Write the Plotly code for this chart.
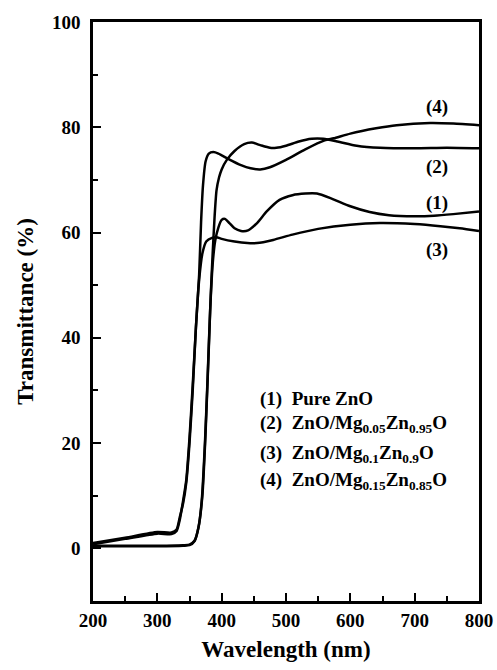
import plotly.graph_objects as go

# Curve (1) Pure ZnO
x1 = [200, 250, 300, 340, 350, 358, 364, 369, 374, 378, 382, 386, 390, 395, 400, 405, 412, 420, 430, 441, 455, 470, 490, 510, 530, 548, 570, 600, 630, 660, 700, 730, 760, 800]
y1 = [0.5, 0.5, 0.5, 0.6, 0.7, 1.5, 4, 9, 20, 32, 45, 54, 58.5, 61, 62.4, 62.6, 61.8, 60.8, 60.3, 60.4, 61.8, 64, 66.2, 67.1, 67.4, 67.4, 66.5, 65, 63.9, 63.3, 63.1, 63.2, 63.5, 64.0]

# Curve (2) ZnO/Mg0.05Zn0.95O
x2 = [200, 250, 300, 340, 350, 358, 364, 370, 375, 380, 383, 386, 389, 392, 396, 400, 408, 420, 435, 447, 460, 475, 485, 500, 520, 540, 558, 580, 610, 646, 700, 750, 800]
y2 = [0.4, 0.4, 0.4, 0.5, 0.6, 1.4, 4, 10, 22, 38, 48, 56, 63, 68, 70.5, 72, 73.8, 75.5, 76.8, 77.1, 76.6, 76.1, 76.1, 76.5, 77.3, 77.8, 77.8, 77.3, 76.5, 76.1, 76.0, 76.1, 76.0]

# Curve (3) ZnO/Mg0.1Zn0.9O
x3 = [200, 250, 300, 322, 330, 335, 340, 345, 350, 355, 360, 365, 370, 376, 385, 392, 400, 420, 440, 455, 480, 510, 550, 600, 646, 700, 740, 770, 800]
y3 = [1.0, 2.0, 3.1, 3.0, 3.6, 6, 8.5, 12.5, 20, 30, 42, 51, 56, 58.3, 59.0, 59.1, 58.8, 58.3, 58.0, 58.0, 58.6, 59.6, 60.7, 61.5, 61.8, 61.6, 61.2, 60.8, 60.3]

# Curve (4) ZnO/Mg0.15Zn0.85O
x4 = [200, 250, 300, 322, 330, 335, 340, 345, 350, 355, 360, 365, 368, 371, 375, 380, 387, 395, 410, 430, 445, 460, 475, 500, 530, 560, 574, 600, 640, 672, 724, 760, 800]
y4 = [0.8, 1.8, 2.8, 2.7, 3.3, 5.5, 9, 13, 21, 31, 42, 52, 62, 69, 73.5, 75, 75.3, 75, 74, 72.8, 72.2, 72, 72.4, 73.8, 75.8, 77.5, 77.9, 78.8, 79.8, 80.4, 80.8, 80.7, 80.4]

label_text = ["(4)", "(2)", "(1)", "(3)"]
label_x = [734, 734, 734, 734]
label_y = [83.9, 72.4, 65.6, 56.6]

legend_text = [
    "(1)  Pure ZnO",
    "(2)  ZnO/Mg<sub>0.05</sub>Zn<sub>0.95</sub>O",
    "(3)  ZnO/Mg<sub>0.1</sub>Zn<sub>0.9</sub>O",
    "(4)  ZnO/Mg<sub>0.15</sub>Zn<sub>0.85</sub>O",
]
legend_x = 456
legend_y = [28.4, 23.6, 18.0, 12.8]

FONT = "Liberation Serif"

fig = go.Figure()
for xs, ys in [(x1, y1), (x2, y2), (x3, y3), (x4, y4)]:
    fig.add_trace(go.Scatter(x=xs, y=ys, mode="lines",
                             line=dict(color="black", width=2.5, shape="spline", smoothing=0.6),
                             showlegend=False, hoverinfo="skip"))

for t, xx, yy in zip(label_text, label_x, label_y):
    fig.add_annotation(x=xx, y=yy, text="<b>" + t + "</b>", showarrow=False,
                       font=dict(family=FONT, size=19, color="black"),
                       xanchor="center", yanchor="middle")

for t, yy in zip(legend_text, legend_y):
    fig.add_annotation(x=legend_x, y=yy, text="<b>" + t + "</b>", showarrow=False,
                       font=dict(family=FONT, size=19, color="black"),
                       xanchor="left", yanchor="middle")

axis_common = dict(
    showline=True, linecolor="black", linewidth=2.5, mirror=True,
    ticks="inside", ticklen=8, tickwidth=2, tickcolor="black",
    showgrid=False, zeroline=False, automargin=False,
    tickfont=dict(family=FONT, size=19, color="black"),
)

fig.update_xaxes(range=[200, 800], tickvals=[200, 300, 400, 500, 600, 700, 800],
                 ticktext=["<b>%d</b>" % v for v in [200, 300, 400, 500, 600, 700, 800]],
                 minor=dict(dtick=50, tick0=200, ticks="inside", ticklen=5, tickwidth=2, tickcolor="black"),
                 title=dict(text="<b>Wavelength (nm)</b>", font=dict(family=FONT, size=23, color="black"), standoff=12),
                 **axis_common)
fig.update_yaxes(range=[-10, 100], tickvals=[0, 20, 40, 60, 80, 100],
                 ticktext=["<b>%d</b>" % v for v in [0, 20, 40, 60, 80, 100]],
                 minor=dict(dtick=10, tick0=0, ticks="inside", ticklen=5, tickwidth=2, tickcolor="black"),
                 title=dict(text="<b>Transmittance (%)</b>", font=dict(family=FONT, size=23, color="black"), standoff=12),
                 ticklabelstandoff=6,
                 **axis_common)

fig.update_layout(width=497, height=670, margin=dict(l=93, r=18, t=22, b=69),
                  plot_bgcolor="white", paper_bgcolor="white")

fig.write_html("out.html")
